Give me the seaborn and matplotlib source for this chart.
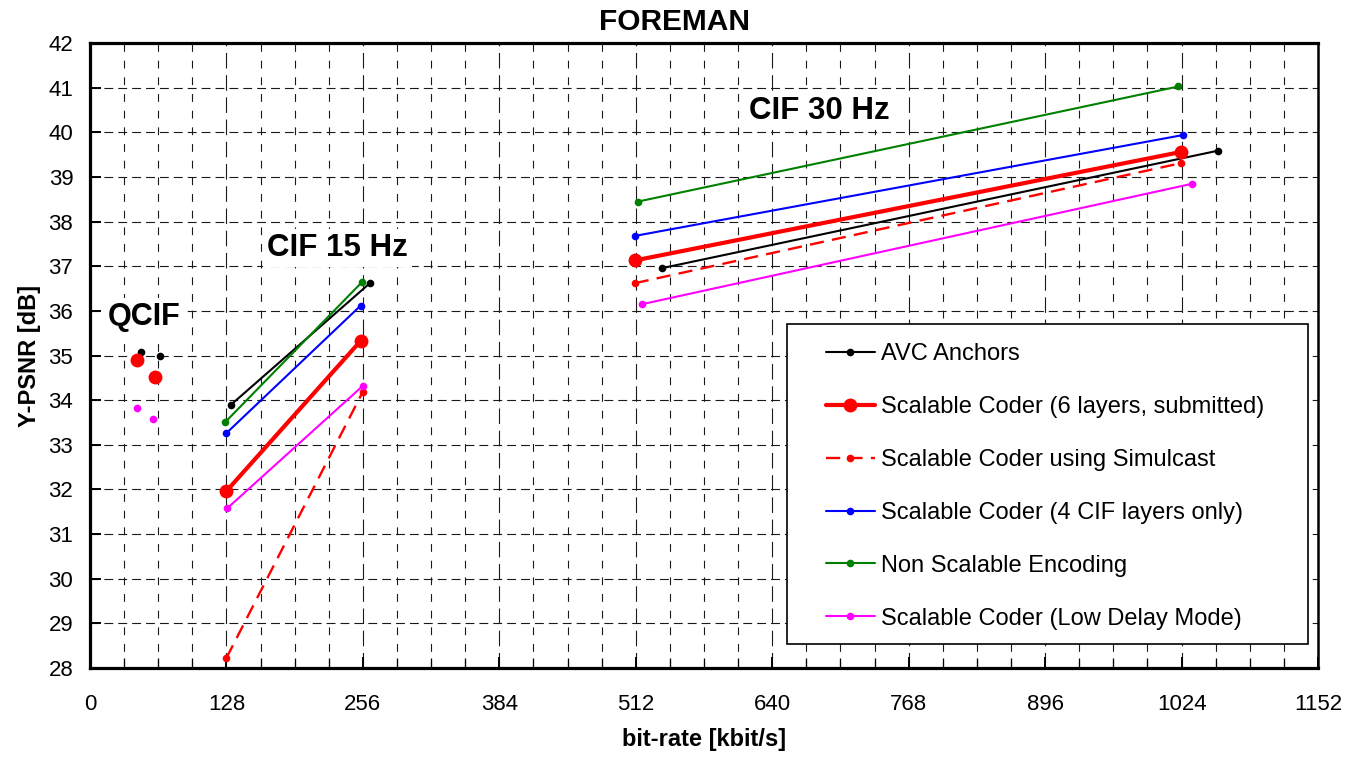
import matplotlib
matplotlib.use("Agg")
import matplotlib.pyplot as plt
import pandas as pd
import seaborn as sns
from matplotlib.lines import Line2D
from matplotlib.patches import Rectangle
from matplotlib.ticker import MultipleLocator

# --- data (bit-rate kbit/s, Y-PSNR dB) ---
SERIES = [
    "AVC Anchors",
    "Scalable Coder (6 layers, submitted)",
    "Scalable Coder using Simulcast",
    "Scalable Coder (4 CIF layers only)",
    "Non Scalable Encoding",
    "Scalable Coder (Low Delay Mode)",
]

# QCIF points (not connected)
AVC_QCIF_RATE = [48, 66]
AVC_QCIF_PSNR = [35.08, 35.00]
SC6_QCIF_RATE = [44, 61]
SC6_QCIF_PSNR = [34.90, 34.52]
LD_QCIF_RATE = [44, 59]
LD_QCIF_PSNR = [33.82, 33.58]

# CIF 15 Hz
AVC_CIF15_RATE = [132, 263]
AVC_CIF15_PSNR = [33.89, 36.63]
SC6_CIF15_RATE = [128, 254]
SC6_CIF15_PSNR = [31.96, 35.33]
SIM_CIF15_RATE = [128, 256]
SIM_CIF15_PSNR = [28.22, 34.19]
CIF4_CIF15_RATE = [128, 254]
CIF4_CIF15_PSNR = [33.26, 36.12]
NS_CIF15_RATE = [127, 255]
NS_CIF15_PSNR = [33.51, 36.64]
LD_CIF15_RATE = [129, 256]
LD_CIF15_PSNR = [31.58, 34.32]

# CIF 30 Hz
AVC_CIF30_RATE = [537, 1058]
AVC_CIF30_PSNR = [36.96, 39.59]
SC6_CIF30_RATE = [511, 1023]
SC6_CIF30_PSNR = [37.13, 39.56]
SIM_CIF30_RATE = [511, 1023]
SIM_CIF30_PSNR = [36.62, 39.31]
CIF4_CIF30_RATE = [511, 1025]
CIF4_CIF30_PSNR = [37.68, 39.94]
NS_CIF30_RATE = [514, 1021]
NS_CIF30_PSNR = [38.45, 41.03]
LD_CIF30_RATE = [518, 1034]
LD_CIF30_PSNR = [36.15, 38.85]

X_TICKS = list(range(0, 1153, 128))
Y_TICKS = list(range(28, 43))

SEGMENTS = {
    SERIES[0]: [("qcif", AVC_QCIF_RATE, AVC_QCIF_PSNR),
                ("cif15", AVC_CIF15_RATE, AVC_CIF15_PSNR),
                ("cif30", AVC_CIF30_RATE, AVC_CIF30_PSNR)],
    SERIES[1]: [("qcif", SC6_QCIF_RATE, SC6_QCIF_PSNR),
                ("cif15", SC6_CIF15_RATE, SC6_CIF15_PSNR),
                ("cif30", SC6_CIF30_RATE, SC6_CIF30_PSNR)],
    SERIES[2]: [("cif15", SIM_CIF15_RATE, SIM_CIF15_PSNR),
                ("cif30", SIM_CIF30_RATE, SIM_CIF30_PSNR)],
    SERIES[3]: [("cif15", CIF4_CIF15_RATE, CIF4_CIF15_PSNR),
                ("cif30", CIF4_CIF30_RATE, CIF4_CIF30_PSNR)],
    SERIES[4]: [("cif15", NS_CIF15_RATE, NS_CIF15_PSNR),
                ("cif30", NS_CIF30_RATE, NS_CIF30_PSNR)],
    SERIES[5]: [("qcif", LD_QCIF_RATE, LD_QCIF_PSNR),
                ("cif15", LD_CIF15_RATE, LD_CIF15_PSNR),
                ("cif30", LD_CIF30_RATE, LD_CIF30_PSNR)],
}

STYLE = {
    SERIES[0]: dict(color="black", lw=1.5, ms=5.5, ls="-"),
    SERIES[1]: dict(color="#ff0000", lw=3.0, ms=10, ls="-"),
    SERIES[2]: dict(color="#ff0000", lw=1.7, ms=5.5, ls=(0, (6, 3.5))),
    SERIES[3]: dict(color="#0000ff", lw=1.5, ms=5.5, ls="-"),
    SERIES[4]: dict(color="#008000", lw=1.5, ms=5.5, ls="-"),
    SERIES[5]: dict(color="#ff00ff", lw=1.5, ms=5.5, ls="-"),
}

# long table, each QCIF point gets its own unit so it is not joined
rows = []
for name, segs in SEGMENTS.items():
    for seg, rates, psnrs in segs:
        for i, (r, p) in enumerate(zip(rates, psnrs)):
            unit = f"{seg}{i}" if seg == "qcif" else seg
            rows.append({"series": name, "unit": unit, "rate": r, "psnr": p})
df = pd.DataFrame(rows)

sns.set_style("white")
plt.rcParams["font.family"] = ["Liberation Sans", "DejaVu Sans"]
plt.rcParams.update({"text.color": "black", "axes.labelcolor": "black",
                     "xtick.color": "black", "ytick.color": "black"})

fig, ax = plt.subplots(figsize=(13.63, 7.58), dpi=100)
fig.subplots_adjust(left=0.066, right=0.967, top=0.943, bottom=0.119)

for name in SERIES:
    st = STYLE[name]
    sns.lineplot(
        data=df[df["series"] == name], x="rate", y="psnr",
        units="unit", estimator=None, sort=False, legend=False, ax=ax,
        color=st["color"], lw=st["lw"], linestyle=st["ls"],
        marker="o", ms=st["ms"], mec=st["color"], markeredgewidth=0,
        zorder=3,
    )

ax.set_xlim(0, 1152)
ax.set_ylim(28, 42)
ax.xaxis.set_minor_locator(MultipleLocator(32))
ax.set_xticks(X_TICKS)
ax.set_yticks(Y_TICKS)

ax.grid(False)
ax.grid(which="major", axis="x", color="#1a1a1a", lw=0.8, linestyle=(0, (14, 6)))
ax.grid(which="minor", axis="x", color="#1a1a1a", lw=0.8, linestyle=(0, (7, 8)))
ax.grid(which="major", axis="y", color="#1a1a1a", lw=0.8, linestyle=(0, (8, 4.5)))

ax.tick_params(axis="x", which="major", direction="in", length=8, width=1.4,
               pad=19, labelsize=16, bottom=True, top=False)
ax.tick_params(axis="x", which="minor", direction="in", length=7, width=0.9,
               bottom=True, top=False)
ax.tick_params(axis="y", which="major", direction="in", length=8, width=1.4,
               pad=12, labelsize=16, left=True, right=False)

for side in ["left", "bottom", "top"]:
    ax.spines[side].set_linewidth(2.3)
    ax.spines[side].set_color("black")
ax.spines["right"].set_linewidth(1.8)
ax.spines["right"].set_color("black")

ax.set_xlabel("bit-rate [kbit/s]", fontsize=17, fontweight="bold", labelpad=9)
ax.set_ylabel("Y-PSNR [dB]", fontsize=17, fontweight="bold", labelpad=5)
fig.text(0.495, 0.971, "FOREMAN", fontsize=21.5, fontweight="bold",
         ha="center", va="center")

# region labels sit on a white patch that hides the grid behind them
label_box = dict(facecolor="white", edgecolor="none", pad=3)
ax.text(51, 35.86, "QCIF", fontsize=22, fontweight="bold", ha="center",
        va="center", bbox=label_box, zorder=2.5)
ax.text(232, 37.41, "CIF 15 Hz", fontsize=22.5, fontweight="bold", ha="center",
        va="center", bbox=label_box, zorder=2.5)
ax.text(684, 40.49, "CIF 30 Hz", fontsize=22.5, fontweight="bold", ha="center",
        va="center", bbox=label_box, zorder=2.5)

# legend box drawn separately so padding can differ horizontally/vertically
ax.add_patch(Rectangle((0.568, 0.038), 0.424, 0.512, transform=ax.transAxes,
                       facecolor="white", edgecolor="black", lw=1.2, zorder=4))
handles = [
    Line2D([], [], color=STYLE[n]["color"], lw=STYLE[n]["lw"], linestyle=STYLE[n]["ls"],
           marker="o", ms=STYLE[n]["ms"], mew=0)
    for n in SERIES
]
leg = ax.legend(handles, SERIES, loc="upper left", bbox_to_anchor=(0.599, 0.520),
                frameon=False, borderpad=0, borderaxespad=0, handlelength=2.1,
                handletextpad=0.25, labelspacing=1.31, fontsize=17)
leg.set_zorder(5)

fig.savefig("out.png", dpi=100)
